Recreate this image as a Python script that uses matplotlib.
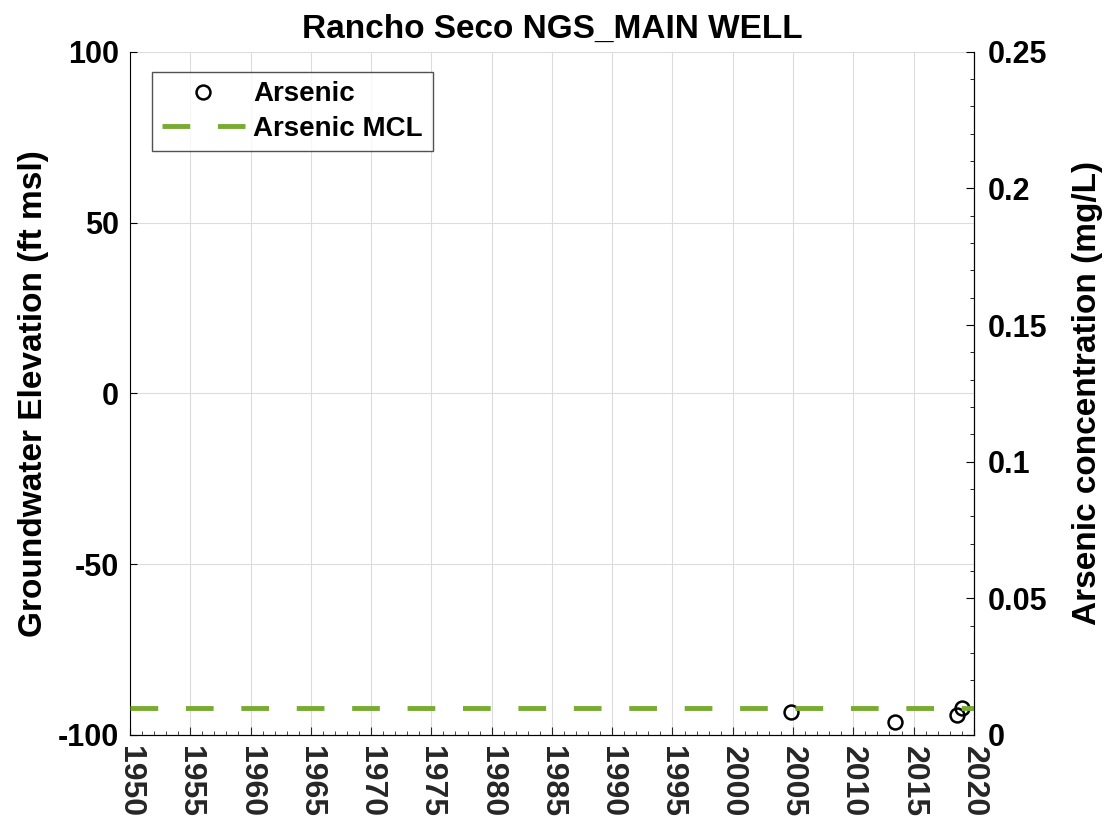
import matplotlib.pyplot as plt
from matplotlib.ticker import MultipleLocator

plt.rcParams['font.family'] = ['Liberation Sans', 'DejaVu Sans']
plt.rcParams['font.weight'] = 'bold'
plt.rcParams['axes.unicode_minus'] = False

# arsenic samples (decimal year, mg/L)
sample_years = [2004.8, 2013.5, 2018.6, 2019.0]
arsenic = [0.0085, 0.0049, 0.0073, 0.0099]
mcl = 0.01
x_ticks = list(range(1950, 2021, 5))

fig = plt.figure(figsize=(11.06, 8.23), dpi=100)
ax = fig.add_axes([0.1175, 0.107, 0.763, 0.83])
ax2 = ax.twinx()

ax.set_xlim(1950, 2020)
ax.set_ylim(-100, 100)
ax.set_yticks([-100, -50, 0, 50, 100])
ax.set_xticks(x_ticks)
ax.set_xticklabels([str(y) for y in x_ticks], rotation=-90, fontsize=23,
                   fontweight='bold', color='#262626')
ax.xaxis.set_minor_locator(MultipleLocator(1))
ax.tick_params(axis='y', labelsize=22, direction='in', length=5, pad=8)
ax.tick_params(axis='x', which='both', direction='in', color='#262626')
ax.tick_params(axis='x', which='major', length=6, pad=8)
ax.tick_params(axis='x', which='minor', length=3)
ax.grid(True, color='#dcdcdc', linewidth=0.8)
ax.set_ylabel('Groundwater Elevation (ft msl)', fontsize=24, fontweight='bold',
              labelpad=6)
ax.set_title('Rancho Seco NGS_MAIN WELL', fontsize=24, fontweight='bold', pad=10)

ax2.set_ylim(0, 0.25)
ax2.set_yticks([0, 0.05, 0.1, 0.15, 0.2, 0.25])
ax2.set_yticklabels(['0', '0.05', '0.1', '0.15', '0.2', '0.25'])
ax2.yaxis.set_minor_locator(MultipleLocator(0.01))
ax2.tick_params(axis='y', which='both', direction='in', labelsize=22, pad=10)
ax2.tick_params(axis='y', which='major', length=6)
ax2.tick_params(axis='y', which='minor', length=3)
ax2.set_ylabel('Arsenic concentration (mg/L)', fontsize=24, fontweight='bold',
               labelpad=18)

for a in (ax, ax2):
    a.spines['top'].set_visible(False)
ax2.spines['left'].set_visible(False)
ax.spines['bottom'].set_color('#262626')

ax2.plot(sample_years, arsenic, 'o', mfc='none', mec='black', ms=10, mew=1.8,
         label='Arsenic')
ax2.plot([1950, 2020], [mcl, mcl], '--', color='#77ac30', lw=3.5,
         dashes=(5.7, 5.7), label='Arsenic MCL')

leg = ax2.legend(loc='upper left', bbox_to_anchor=(0.026, 0.971),
                 borderaxespad=0, fontsize=20, frameon=True, fancybox=False,
                 edgecolor='#262626', handlelength=3.0, handletextpad=0.3,
                 borderpad=0.35, labelspacing=0.3)
leg.get_frame().set_linewidth(1.0)

fig.savefig('out.png', dpi=100)
